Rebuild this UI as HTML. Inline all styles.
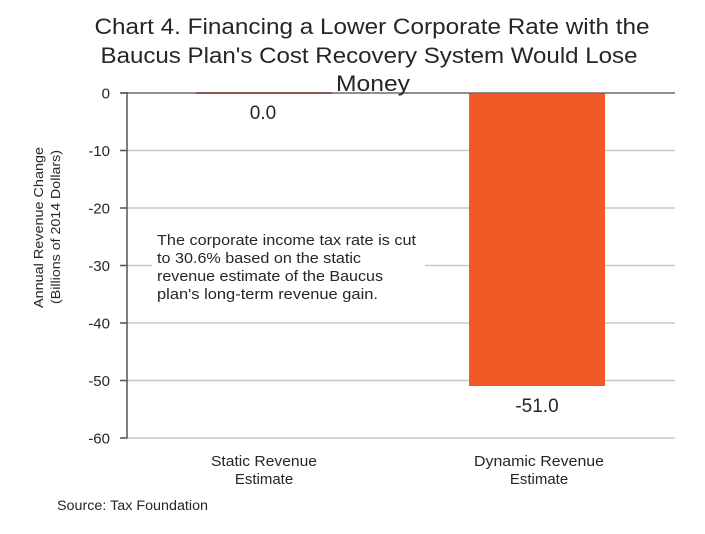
<!DOCTYPE html>
<html>
<head>
<meta charset="utf-8">
<style>
  html, body { margin: 0; padding: 0; background: #ffffff; }
  svg { display: block; }
  text { font-family: "Liberation Sans", "DejaVu Sans", sans-serif; fill: #262626; }
</style>
</head>
<body>
<svg width="705" height="534" viewBox="0 0 705 534" xmlns="http://www.w3.org/2000/svg">
  <rect x="0" y="0" width="705" height="534" fill="#ffffff"/>

  <!-- Title -->
  <text x="372" y="34" font-size="22" text-anchor="middle" textLength="555" lengthAdjust="spacingAndGlyphs">Chart 4. Financing a Lower Corporate Rate with the</text>
  <text x="369" y="63" font-size="22" text-anchor="middle" textLength="537" lengthAdjust="spacingAndGlyphs">Baucus Plan's Cost Recovery System Would Lose</text>

  <!-- Gridlines -->
  <g stroke="#c9c9c9" stroke-width="1.5">
    <line x1="121" y1="150.5" x2="675" y2="150.5"/>
    <line x1="121" y1="208" x2="675" y2="208"/>
    <line x1="121" y1="265.5" x2="675" y2="265.5"/>
    <line x1="121" y1="323" x2="675" y2="323"/>
    <line x1="121" y1="380.5" x2="675" y2="380.5"/>
    <line x1="121" y1="438" x2="675" y2="438"/>
  </g>

  <!-- Orange bar -->
  <rect x="469" y="93" width="136" height="293" fill="#f15a25"/>

  <!-- Zero line -->
  <line x1="121" y1="93" x2="675" y2="93" stroke="#6a6a6a" stroke-width="1.5"/>
  <!-- Static bar (zero) -->
  <line x1="196" y1="93" x2="332" y2="93" stroke="#7a1d1d" stroke-width="1.2"/>

  <!-- Y axis -->
  <line x1="127" y1="92" x2="127" y2="438.5" stroke="#555555" stroke-width="1.5"/>
  <g stroke="#555555" stroke-width="1.5">
    <line x1="120" y1="93" x2="127" y2="93"/>
    <line x1="120" y1="150.5" x2="127" y2="150.5"/>
    <line x1="120" y1="208" x2="127" y2="208"/>
    <line x1="120" y1="265.5" x2="127" y2="265.5"/>
    <line x1="120" y1="323" x2="127" y2="323"/>
    <line x1="120" y1="380.5" x2="127" y2="380.5"/>
    <line x1="120" y1="438" x2="127" y2="438"/>
  </g>

  <!-- Title line 3 (overlaps zero line) -->
  <text x="373" y="91" font-size="22" text-anchor="middle" textLength="74" lengthAdjust="spacingAndGlyphs">Money</text>

  <!-- Y tick labels -->
  <g font-size="15" text-anchor="end">
    <text x="110" y="98.5">0</text>
    <text x="110" y="156">-10</text>
    <text x="110" y="213.5">-20</text>
    <text x="110" y="271">-30</text>
    <text x="110" y="328.5">-40</text>
    <text x="110" y="386">-50</text>
    <text x="110" y="443.5">-60</text>
  </g>

  <!-- Y axis title -->
  <text transform="translate(43,227.5) rotate(-90)" font-size="12.5" text-anchor="middle" textLength="161" lengthAdjust="spacingAndGlyphs">Annual Revenue Change</text>
  <text transform="translate(60,227) rotate(-90)" font-size="12.5" text-anchor="middle" textLength="154" lengthAdjust="spacingAndGlyphs">(Billions of 2014 Dollars)</text>

  <!-- Annotation box -->
  <rect x="152" y="224" width="273" height="90" fill="#ffffff"/>
  <g font-size="15">
    <text x="157" y="245" textLength="259" lengthAdjust="spacingAndGlyphs">The corporate income tax rate is cut</text>
    <text x="157" y="263" textLength="204" lengthAdjust="spacingAndGlyphs">to 30.6% based on the static</text>
    <text x="157" y="281" textLength="226" lengthAdjust="spacingAndGlyphs">revenue estimate of the Baucus</text>
    <text x="157" y="299" textLength="221" lengthAdjust="spacingAndGlyphs">plan's long-term revenue gain.</text>
  </g>

  <!-- Data labels -->
  <text x="263" y="119" font-size="19" text-anchor="middle">0.0</text>
  <text x="537" y="412" font-size="19" text-anchor="middle">-51.0</text>

  <!-- Category labels -->
  <g font-size="15" text-anchor="middle">
    <text x="264" y="466" textLength="106" lengthAdjust="spacingAndGlyphs">Static Revenue</text>
    <text x="264" y="484">Estimate</text>
    <text x="539" y="466" textLength="130" lengthAdjust="spacingAndGlyphs">Dynamic Revenue</text>
    <text x="539" y="484">Estimate</text>
  </g>

  <!-- Source -->
  <text x="57" y="510" font-size="13.5" textLength="151" lengthAdjust="spacingAndGlyphs">Source: Tax Foundation</text>
</svg>
</body>
</html>
